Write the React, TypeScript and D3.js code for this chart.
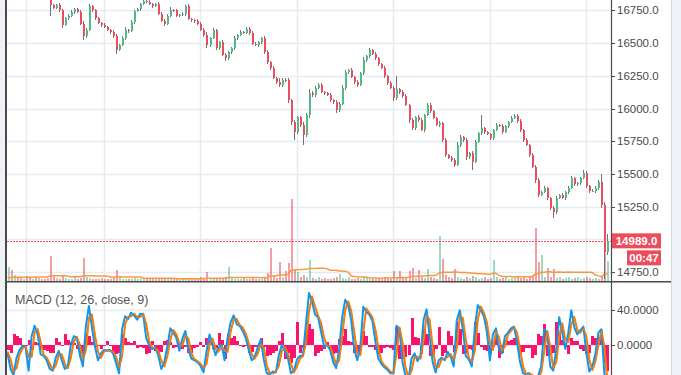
import React from 'react';
import * as d3 from 'd3';

// price bars (close of each bar, open = previous close)
const firstOpen = 16940;
const closes = [
  16950, 16930, 16960, 16920, 16900, 16930, 16910, 16880, 16900, 16870,
  16890, 16860, 16850, 16840, 16790, 16770, 16790, 16755, 16640, 16690,
  16710, 16740, 16760, 16740, 16650, 16555, 16600, 16785, 16755, 16690,
  16655, 16640, 16625, 16600, 16585, 16555, 16450, 16486, 16540, 16600,
  16595, 16660, 16745, 16760, 16800, 16822, 16815, 16800, 16785, 16800,
  16725, 16670, 16650, 16710, 16755, 16750, 16710, 16716, 16725, 16785,
  16685, 16677, 16670, 16650, 16601, 16563, 16486, 16540, 16600, 16463,
  16510, 16410, 16385, 16430, 16463, 16540, 16563, 16585, 16580, 16610,
  16580, 16495, 16486, 16510, 16540, 16430, 16355, 16310, 16235, 16205,
  16180, 16220, 16215, 16066, 15900, 15820, 15935, 15875, 15798, 15950,
  16120, 16104, 16160, 16180, 16128, 16120, 16104, 16066, 16050, 15989,
  16035, 16160, 16280, 16295, 16240, 16205, 16180, 16270, 16372, 16400,
  16448, 16418, 16385, 16340, 16310, 16250, 16195, 16160, 16080, 16150,
  16130, 16095, 16028, 15913, 15850, 15935, 15913, 15836, 15951, 16028,
  15978, 15930, 15875, 15890, 15760, 15645, 15622, 15607, 15569, 15722,
  15783, 15760, 15630, 15660, 15595, 15745, 15810, 15850, 15820, 15805,
  15775, 15836, 15875, 15870, 15820, 15867, 15898, 15930, 15945, 15905,
  15836, 15760, 15722, 15645, 15555, 15454, 15340, 15362, 15393, 15317,
  15240, 15210, 15317, 15340, 15317, 15362, 15393, 15470, 15424, 15430,
  15470, 15508, 15408, 15370, 15372, 15393, 15440, 15263, 14900, 14989,
];

// wick lengths above / below the body, in points
const wickUp = [
  15, 10, 20, 12, 8, 15, 10, 12, 18, 10,
  12, 8, 15, 10, 20, 12, 10, 15, 10, 12,
  10, 15, 8, 12, 10, 20, 15, 12, 10, 8,
  12, 10, 15, 8, 10, 12, 15, 10, 12, 20,
  10, 15, 12, 8, 10, 15, 10, 12, 8, 10,
  15, 10, 12, 10, 20, 8, 12, 10, 15, 10,
  12, 10, 8, 15, 10, 12, 20, 10, 15, 12,
  10, 12, 15, 10, 8, 12, 10, 15, 10, 12,
  10, 15, 12, 8, 10, 12, 15, 10, 12, 10,
  25, 12, 15, 20, 10, 15, 12, 10, 20, 15,
  30, 15, 10, 12, 15, 10, 8, 12, 10, 15,
  12, 20, 15, 10, 12, 10, 15, 12, 20, 10,
  15, 10, 12, 8, 10, 12, 10, 15, 10, 100,
  10, 12, 15, 10, 12, 10, 15, 12, 10, 15,
  12, 10, 8, 15, 10, 12, 10, 15, 12, 20,
  15, 10, 12, 10, 15, 12, 10, 100, 12, 10,
  12, 10, 15, 10, 12, 10, 8, 12, 15, 10,
  12, 10, 15, 10, 12, 10, 15, 10, 12, 10,
  10, 12, 15, 10, 12, 10, 15, 12, 10, 12,
  10, 22, 12, 10, 15, 12, 15, 60, 25, 50,
];
const wickDn = [
  12, 15, 10, 20, 12, 10, 15, 12, 10, 15,
  10, 12, 15, 10, 80, 12, 10, 15, 25, 10,
  12, 10, 15, 12, 10, 30, 12, 10, 15, 12,
  10, 15, 12, 10, 12, 15, 35, 12, 10, 12,
  15, 10, 12, 10, 15, 12, 10, 12, 15, 10,
  12, 10, 15, 12, 10, 15, 12, 10, 12, 15,
  10, 12, 15, 12, 10, 15, 20, 12, 10, 15,
  12, 10, 25, 12, 10, 15, 12, 10, 12, 10,
  15, 12, 10, 12, 15, 10, 12, 15, 10, 20,
  12, 15, 10, 20, 25, 60, 15, 12, 76, 15,
  20, 12, 15, 10, 12, 15, 10, 12, 15, 20,
  12, 10, 15, 12, 10, 20, 15, 10, 12, 15,
  10, 12, 15, 12, 10, 15, 12, 10, 20, 12,
  15, 12, 10, 20, 15, 12, 15, 10, 12, 10,
  15, 12, 10, 12, 15, 12, 10, 15, 12, 10,
  12, 15, 20, 12, 64, 12, 10, 15, 12, 10,
  15, 12, 10, 12, 15, 10, 12, 10, 12, 15,
  12, 15, 10, 15, 12, 20, 15, 12, 10, 15,
  12, 45, 15, 12, 10, 15, 12, 10, 15, 12,
  12, 10, 15, 12, 10, 15, 12, 20, 200, 20,
];

// volume of the 19 bars before the window (only feeds the moving average)
const prevVolumes = [3, 2, 2, 3, 2, 4, 2, 2, 3, 2, 2, 3, 2, 2, 4, 2, 3, 2, 2];
const volumes = [
  14, 11, 6, 4, 3, 2, 5, 3, 2, 4,
  3, 2, 2, 3, 25, 5, 3, 2, 6, 3,
  2, 2, 5, 2, 3, 23, 4, 3, 2, 2,
  2, 3, 2, 2, 2, 3, 11, 4, 2, 2,
  2, 2, 3, 2, 2, 2, 3, 2, 2, 2,
  3, 2, 2, 2, 3, 2, 2, 2, 2, 3,
  2, 2, 3, 2, 4, 3, 9, 2, 3, 2,
  2, 3, 4, 14, 3, 2, 2, 2, 3, 2,
  2, 3, 2, 2, 2, 4, 8, 33, 6, 3,
  19, 4, 10, 18, 82, 12, 9, 4, 6, 4,
  21, 3, 2, 4, 2, 3, 2, 2, 3, 4,
  7, 3, 2, 4, 2, 2, 3, 2, 4, 3,
  2, 2, 2, 3, 2, 4, 3, 2, 10, 4,
  10, 3, 4, 10, 13, 3, 11, 4, 3, 12,
  4, 3, 2, 45, 22, 6, 4, 3, 12, 4,
  3, 2, 4, 3, 5, 4, 2, 3, 4, 2,
  3, 21, 4, 2, 3, 4, 2, 3, 4, 5,
  3, 4, 2, 4, 6, 53, 19, 26, 4, 13,
  4, 12, 3, 4, 2, 3, 4, 2, 3, 4,
  2, 3, 4, 3, 2, 3, 2, 6, 60, 20,
];

// MACD (12, 26, close, 9)
const macdLine = [
  -10, -28, -35, -15, -6, -1, -3, -30, 10, 22,
  12, -11, -13, -18, -28, -30, -15, -7, -18, -28,
  -25, 0, 10, 8, -12, -25, 22, 45, 20, -2,
  -18, -10, -6, -7, -6, -10, -21, -33, 18, 33,
  30, 37, 34, 29, 36, 35, 8, -1, -5, -3,
  -12, -28, -20, -2, 19, 14, 8, -7, 7, 16,
  -6, -16, -18, -20, -24, -32, -8, 12, 0, -12,
  -3, 0, -18, 8, 26, 34, 24, 22, 16, 8,
  -6, -18, -14, -3, 6, -17, -33, -34, -31, -32,
  -12, 0, -7, -15, -33, -30, -17, -13, -12, 25,
  60, 50, 35, 32, 15, -2, 0, -6, -20, -27,
  -5, 32, 52, 46, 28, -5, -18, -4, 44, 38,
  35, 28, 4, -16, -22, -26, -29, -33, -33, 22,
  18, -20, -36, -40, -16, -10, -19, -12, 29, 41,
  10, -20, -32, -18, -15, -18, -8, -14, -25, 28,
  40, 18, -13, -17, -25, 20, 46, 40, 33, 15,
  -18, 12, 19, -5, -10, 10, 14, 19, 21, 3,
  -20, -33, -34, -33, -38, -40, -36, -25, 18, 14,
  -25, -30, -5, 32, 14, -5, 14, 40, 20, 12,
  17, 21, -10, -31, -25, -10, 14, 18, -35, -60,
];
const signalLine = [
  -8, -17, -31, -27, -11, -4, -2, -14, -14, 15,
  18, 3, -12, -15, -22, -29, -24, -12, -11, -22,
  -27, -15, 4, 9, 0, -17, -6, 31, 35, 11,
  -8, -15, -8, -6, -7, -8, -14, -26, -13, 24,
  32, 33, 36, 32, 32, 36, 24, 4, -3, -4,
  -7, -18, -25, -13, 6, 17, 12, 2, -1, 11,
  7, -10, -17, -19, -22, -27, -22, 0, 7, -5,
  -8, -2, -7, -8, 15, 29, 30, 23, 20, 13,
  2, -11, -16, -10, 1, -3, -24, -33, -33, -31,
  -24, -7, -3, -10, -22, -32, -25, -16, -13, 3,
  39, 56, 44, 34, 25, 8, -1, -2, -12, -23,
  -18, 10, 40, 50, 39, 15, -10, -12, 15, 42,
  37, 32, 18, -4, -19, -24, -27, -31, -33, -11,
  20, 3, -26, -38, -30, -14, -14, -16, 5, 34,
  29, -2, -25, -26, -17, -16, -14, -11, -18, -4,
  33, 31, 6, -15, -20, -7, 30, 44, 37, 26,
  2, -6, 15, 9, -7, -2, 12, 16, 20, 14,
  -6, -25, -34, -33, -35, -39, -38, -32, -8, 16,
  -2, -27, -20, 10, 25, 6, 3, 24, 32, 17,
  14, 19, 9, -18, -29, -19, 0, 16, -3, -45,
];
const histogram = [
  -6, -10, 12, 10, 8, -3, -2, 6, -6, 3,
  2, -5, -6, -7, -10, -9, 8, 3, -2, 12,
  6, 3, 2, -5, -11, -9, 14, 10, 3, -3,
  -2, -5, -2, 4, -2, -10, -11, -9, 12, 8,
  3, 2, 4, -4, -3, -4, -11, -10, 4, -7,
  -9, -8, 4, 6, 3, -4, -3, 2, -5, -3,
  -9, -9, -4, -3, 3, -3, 8, 6, -5, -4,
  14, 5, -17, 12, 8, 10, 4, -2, -3, -2,
  -9, -8, -3, -2, 8, -3, -13, -12, -9, -7,
  4, 14, -17, -10, -21, -15, 26, -9, -4, 15,
  24, 18, -13, -9, -7, -5, 3, -5, -11, -9,
  7, 10, 18, 4, 3, -9, -8, -5, 16, 10,
  -3, -3, -6, -11, -10, -4, -3, -4, -6, 21,
  -17, -16, -14, -12, 31, 9, 8, -11, 18, 12,
  -13, -12, -5, 20, -13, -10, 16, 10, -8, 26,
  18, -11, -10, -5, -6, 26, 14, -3, -6, -7,
  -11, -3, 10, -15, -10, 5, 4, 6, 8, 7,
  -9, -8, -4, -4, -15, -12, 12, 10, 24, -13,
  -12, -10, 26, 14, 5, -3, -11, 8, 4, 4,
  -5, -7, -11, -10, 10, 8, 9, 8, -21, -30,
];

const priceTicks = [16750, 16500, 16250, 16000, 15750, 15500, 15250, 15000, 14750];
const macdTicks = [40, 0];
const gridBars = [6, 32, 64, 96, 128, 160, 192];
const countdown = '00:47';

const UP = '#53b987';
const DOWN = '#eb4d5c';
const WICK = '#737375';
const GRID = '#e4ebf1';
const AXIS = '#4a4a4a';
const FONT = '"Liberation Sans", Arial, sans-serif';

export default function App() {
  const W = 681, H = 375;
  const plotL = 7, plotR = 611;
  const mainBottom = 281, macdTop = 283;
  const n = closes.length;

  const x = d3.scaleBand<number>().domain(d3.range(n)).range([6, 609]);
  const cx = (i: number) => (x(i) as number) + x.bandwidth() / 2;
  const yPrice = d3.scaleLinear().domain([14682, 16830]).range([mainBottom, 0]);
  const yVol = d3.scaleLinear().domain([0, 100]).range([mainBottom, mainBottom - 100]);
  const yMacd = d3.scaleLinear().domain([-35, 71.5]).range([H, macdTop]);

  const opens = closes.map((c, i) => (i === 0 ? firstOpen : closes[i - 1]));
  const allVol = prevVolumes.concat(volumes);
  const k = prevVolumes.length;
  const volMA = volumes.map((v, i) => d3.mean(allVol.slice(i + k - 19, i + k + 1)) as number);

  const volLine = d3.line<number>().x((d, i) => cx(i)).y(d => yVol(d));
  const macdPath = d3.line<number>().x((d, i) => cx(i)).y(d => yMacd(d));

  const crisp = (v: number) => Math.round(v) + 0.5;
  const last = closes[n - 1];
  const lastY = yPrice(last);

  let candles = [];
  closes.forEach((c, i) => {
    const o = opens[i];
    const up = c >= o;
    const hi = Math.max(o, c) + wickUp[i];
    const lo = Math.min(o, c) - wickDn[i];
    const top = yPrice(Math.max(o, c));
    const bot = yPrice(Math.min(o, c));
    const px = Math.round(cx(i));
    candles.push(
      <g key={i}>
        <line x1={px + 0.5} x2={px + 0.5} y1={yPrice(hi)} y2={yPrice(lo)} stroke={WICK} strokeWidth={1} />
        <rect x={px - 0.5} y={top} width={2} height={Math.max(1, bot - top)} fill={up ? UP : DOWN} />
      </g>
    );
  });

  let volBars = volumes.map((v, i) => (
    <rect key={i} x={Math.round(cx(i)) - 0.5} y={yVol(v)} width={2} height={mainBottom - yVol(v)}
      fill={closes[i] >= opens[i] ? UP : DOWN} opacity={0.55} />
  ));

  let histBars = histogram.map((h, i) => {
    const y0 = yMacd(0), y1 = yMacd(h);
    return <rect key={i} x={Math.round(cx(i)) - 1} y={Math.min(y0, y1)} width={3} height={Math.abs(y1 - y0)} fill="#f7136f" />;
  });

  return (
    <svg width={W} height={H} style={{ position: 'fixed', left: 0, top: 0, background: '#fff' }}>
      <defs>
        <clipPath id="mainClip"><rect x={plotL} y={0} width={plotR - plotL} height={mainBottom} /></clipPath>
        <clipPath id="macdClip"><rect x={plotL} y={macdTop} width={plotR - plotL} height={H - macdTop} /></clipPath>
      </defs>

      {/* side strips */}
      <rect x={0} y={0} width={6} height={H} fill="#eef2f6" />
      <rect x={671} y={0} width={10} height={H} fill="#eef1f5" />
      <line x1={671.5} x2={671.5} y1={0} y2={H} stroke="#d3d7de" />

      {/* grid */}
      <g stroke={GRID} strokeWidth={1.5}>
        {gridBars.map(b => (
          <line key={b} x1={crisp(cx(b))} x2={crisp(cx(b))} y1={0} y2={H} />
        ))}
        {priceTicks.map(t => (
          <line key={t} x1={plotL} x2={plotR} y1={crisp(yPrice(t))} y2={crisp(yPrice(t))} />
        ))}
        {macdTicks.map(t => (
          <line key={t} x1={plotL} x2={plotR} y1={crisp(yMacd(t))} y2={crisp(yMacd(t))} />
        ))}
      </g>

      {/* main pane */}
      <g clipPath="url(#mainClip)" shapeRendering="crispEdges">
        {volBars}
      </g>
      <g clipPath="url(#mainClip)">
        <path d={volLine(volMA) as string} fill="none" stroke="#f79a3e" strokeWidth={1.5} />
      </g>
      <g clipPath="url(#mainClip)" shapeRendering="crispEdges">
        {candles}
      </g>
      <line x1={plotL} x2={plotR} y1={crisp(lastY)} y2={crisp(lastY)} stroke="#f0505e" strokeWidth={1}
        strokeDasharray="2,1" shapeRendering="crispEdges" />

      {/* macd pane */}
      <g clipPath="url(#macdClip)">
        <g shapeRendering="crispEdges">{histBars}</g>
        <path d={macdPath(signalLine) as string} fill="none" stroke="#ff7a00" strokeWidth={2} strokeLinejoin="round" />
        <path d={macdPath(macdLine) as string} fill="none" stroke="#0f96ee" strokeWidth={2} strokeLinejoin="round" />
        <path d={macdPath(signalLine) as string} fill="none" stroke="#ff7a00" strokeWidth={1.2} opacity={0.8} />
      </g>
      <text x={15} y={304} fontFamily={FONT} fontSize={12.5} fill="#555">MACD (12, 26, close, 9)</text>

      {/* frame */}
      <rect x={5} y={0} width={2} height={H} fill={AXIS} />
      <line x1={crisp(plotR)} x2={crisp(plotR)} y1={0} y2={H} stroke={AXIS} strokeWidth={1.2} />
      <rect x={plotL} y={mainBottom} width={671 - plotL} height={1.5} fill={AXIS} />

      {/* price axis */}
      <g fontFamily={FONT} fontSize={11.5} fill="#4a4a4a">
        {priceTicks.map(t => (
          <g key={t}>
            <line x1={plotR} x2={plotR + 4} y1={crisp(yPrice(t))} y2={crisp(yPrice(t))} stroke={AXIS} />
            <text x={617} y={yPrice(t) + 4}>{d3.format('.1f')(t)}</text>
          </g>
        ))}
        {macdTicks.map(t => (
          <g key={t}>
            <line x1={plotR} x2={plotR + 4} y1={crisp(yMacd(t))} y2={crisp(yMacd(t))} stroke={AXIS} />
            <text x={617} y={yMacd(t) + 4}>{d3.format('.4f')(t)}</text>
          </g>
        ))}
      </g>

      {/* last price + countdown */}
      <rect x={612} y={lastY - 7.5} width={49} height={15} fill={DOWN} />
      <text x={636.5} y={lastY + 4} textAnchor="middle" fontFamily={FONT} fontSize={11.5} fontWeight="bold" fill="#fff">{d3.format('.1f')(last)}</text>
      <rect x={627} y={lastY + 9.5} width={34} height={15} fill={DOWN} />
      <text x={644} y={lastY + 21} textAnchor="middle" fontFamily={FONT} fontSize={11.5} fontWeight="bold" fill="#fff">{countdown}</text>
    </svg>
  );
}
